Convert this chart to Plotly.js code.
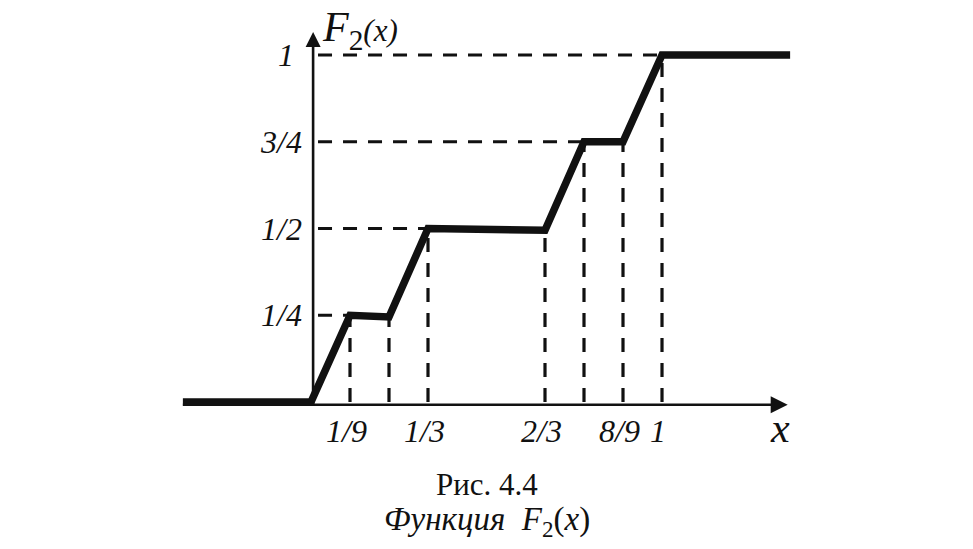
<!DOCTYPE html>
<html>
<head>
<meta charset="utf-8">
<script src="https://cdn.plot.ly/plotly-3.0.1.min.js"></script>
<style>html,body{margin:0;padding:0;background:#fff;}#chart{width:973px;height:549px;}</style>
</head>
<body>
<div id="chart"></div>
<script>
// Curve F2(x) vertices (x, F2)
var curveX = [-0.365, 0, 1/9, 2/9, 1/3, 2/3, 7/9, 8/9, 1, 1.365];
var curveY = [0, 0, 0.25, 0.245, 0.5, 0.495, 0.75, 0.75, 1, 1];

// Vertical dashed guides: x positions and heights
var vGuideX = [1/9, 2/9, 1/3, 2/3, 7/9, 8/9, 1];
var vGuideY = [0.25, 0.245, 0.5, 0.495, 0.75, 0.75, 1];

// Horizontal dashed guides: level and where they end
var hGuideY = [0.25, 0.5, 0.75, 1];
var hGuideEnd = [1/9, 1/3, 7/9, 1];

// Axis extents (x axis: from / to, y axis: from / to)
var xAxisSpan = [-0.365, 1.358];
var yAxisSpan = [-0.01, 1.066];

// Tick labels
var xTickVals = [1/9, 1/3, 2/3, 8/9, 1];
var xTickText = ['1/9', '1/3', '2/3', '8/9', '1'];
var yTickVals = [0.25, 0.5, 0.75, 1];
var yTickText = ['1/4', '1/2', '3/4', '1'];

var INK = '#111111';
var serif = 'Liberation Serif, Times New Roman, serif';

// build dashed guide traces
var vx = [], vy = [];
vGuideX.forEach(function (x, i) { vx.push(x, x, null); vy.push(0, vGuideY[i], null); });
var hx = [], hy = [];
hGuideY.forEach(function (y, i) { hx.push(0.02, hGuideEnd[i], null); hy.push(y, y, null); });

var AX_Y = -0.008, AX_X = 0.006;

var traces = [
  // x axis with arrow
  {x: [xAxisSpan[0], xAxisSpan[1] - 0.02], y: [AX_Y, AX_Y], mode: 'lines', line: {color: INK, width: 2.6}, hoverinfo: 'skip', showlegend: false},
  {x: [xAxisSpan[1]], y: [AX_Y], mode: 'markers', marker: {symbol: 'arrow-right', size: 17, color: INK,
    line: {width: 0}}, hoverinfo: 'skip', showlegend: false},
  // y axis with arrow
  {x: [AX_X, AX_X], y: [yAxisSpan[0], yAxisSpan[1] - 0.02], mode: 'lines', line: {color: INK, width: 2.6}, hoverinfo: 'skip', showlegend: false},
  {x: [AX_X], y: [yAxisSpan[1]], mode: 'markers', marker: {symbol: 'arrow-up', size: 15, color: INK,
    line: {width: 0}}, hoverinfo: 'skip', showlegend: false},
  {x: vx, y: vy, mode: 'lines', line: {color: INK, width: 3.2, dash: '14px,11px'}, hoverinfo: 'skip', showlegend: false},
  {x: hx, y: hy, mode: 'lines', line: {color: INK, width: 3.2, dash: '14px,11px'}, hoverinfo: 'skip', showlegend: false},
  {x: curveX, y: curveY, mode: 'lines', line: {color: INK, width: 7.5}, hoverinfo: 'skip', showlegend: false}
];

var ann = [];
// x tick labels
xTickVals.forEach(function (v, i) {
  ann.push({x: v, y: -0.083, xref: 'x', yref: 'y', text: '<i>' + xTickText[i] + '</i>', showarrow: false,
    xanchor: 'center', yanchor: 'middle', xshift: -4, font: {family: serif, size: 32, color: INK}});
});
// y tick labels
yTickVals.forEach(function (v, i) {
  ann.push({x: -0.02, y: v, xref: 'x', yref: 'y', text: '<i>' + yTickText[i] + '</i>', showarrow: false,
    xanchor: 'right', yanchor: 'middle', xshift: (yTickText[i] === '1' ? -8 : 0),
    font: {family: serif, size: 32, color: INK}});
});
// axis names
ann.push({x: 1.336, y: -0.075, xref: 'x', yref: 'y', text: '<i>x</i>', showarrow: false,
  xanchor: 'center', yanchor: 'middle', font: {family: serif, size: 42, color: INK}});
ann.push({x: 0.028, y: 1.072, xref: 'x', yref: 'y',
  text: '<i>F</i><sub>2</sub><span style="font-size:31px"><i>(x)</i></span>', showarrow: false,
  xanchor: 'left', yanchor: 'middle', borderpad: 0, font: {family: serif, size: 42, color: INK}});

// caption
ann.push({x: 487 / 973, y: 1 - 485 / 549, xref: 'paper', yref: 'paper', text: 'Рис. 4.4', showarrow: false,
  xanchor: 'center', yanchor: 'middle', font: {family: serif, size: 31, color: INK}});
ann.push({x: 487 / 973, y: 1 - 521 / 549, xref: 'paper', yref: 'paper',
  text: '<i>Функция  F</i><sub>2</sub>(<i>x</i>)', showarrow: false,
  xanchor: 'center', yanchor: 'middle', font: {family: serif, size: 33, color: INK}});

var layout = {
  width: 973, height: 549,
  margin: {l: 0, r: 0, t: 0, b: 0},
  paper_bgcolor: '#ffffff', plot_bgcolor: '#ffffff',
  xaxis: {range: [-0.886, 1.886], visible: false, fixedrange: true},
  yaxis: {range: [-0.4236, 1.1585], visible: false, fixedrange: true},
  showlegend: false,
  annotations: ann
};

Plotly.newPlot('chart', traces, layout, {staticPlot: true, displayModeBar: false});
</script>
</body>
</html>
